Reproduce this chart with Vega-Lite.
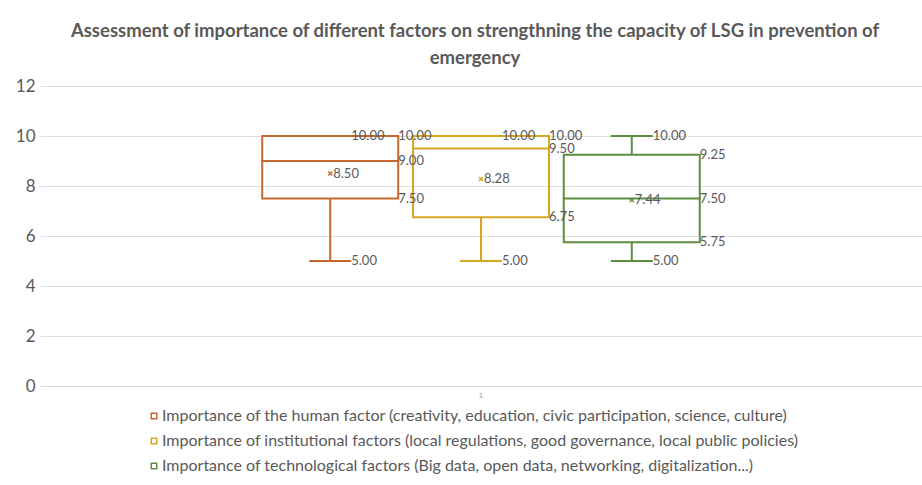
{
  "$schema": "https://vega.github.io/schema/vega-lite/v6.json",
  "autosize": {"type": "none"},
  "width": 882,
  "height": 300,
  "padding": {"left": 40, "top": 86, "right": 0, "bottom": 99},
  "background": "white",
  "title": {
    "text": ["Assessment of importance of different factors on strengthning the capacity of LSG in prevention of", "emergency"],
    "anchor": "middle",
    "frame": "group",
    "font": "Lato",
    "fontSize": 18.5,
    "fontWeight": "bold",
    "color": "#595959",
    "lineHeight": 27,
    "offset": 10,
    "dx": -6
  },
  "data": {
    "values": [
      {"cat": "1", "series": "Importance of the human factor (creativity, education, civic participation, science, culture)", "min": 5, "q1": 7.5, "median": 9, "q3": 10, "max": 10, "mean": 8.5},
      {"cat": "1", "series": "Importance of institutional factors (local regulations, good governance, local public policies)", "min": 5, "q1": 6.75, "median": 9.5, "q3": 10, "max": 10, "mean": 8.28},
      {"cat": "1", "series": "Importance of technological factors (Big data, open data, networking, digitalization...)", "min": 5, "q1": 5.75, "median": 7.5, "q3": 9.25, "max": 10, "mean": 7.44}
    ]
  },
  "encoding": {
    "x": {
      "field": "cat", "type": "nominal",
      "scale": {"paddingInner": 0, "paddingOuter": 0.475},
      "axis": {"title": null, "labelAngle": 0, "ticks": false, "domain": true, "domainColor": "#D9D9D9", "labelFontSize": 8, "labelColor": "#999999", "labelPadding": 5}
    },
    "xOffset": {
      "field": "series", "type": "nominal", "sort": null,
      "scale": {"paddingInner": 0.098, "paddingOuter": 0.049}
    },
    "color": {
      "field": "series", "type": "nominal", "sort": null,
      "scale": {
        "domain": [
          "Importance of the human factor (creativity, education, civic participation, science, culture)",
          "Importance of institutional factors (local regulations, good governance, local public policies)",
          "Importance of technological factors (Big data, open data, networking, digitalization...)"
        ],
        "range": ["#C5682F", "#D8A722", "#5F8D3F"]
      },
      "legend": {
        "title": null,
        "orient": "none",
        "legendX": 106,
        "legendY": 322,
        "direction": "vertical",
        "padding": 0,
        "symbolType": "square",
        "symbolSize": 30,
        "symbolStrokeWidth": 1.5,
        "symbolFillColor": "white",
        "labelFont": "Lato",
        "labelFontSize": 16,
        "labelColor": "#595959",
        "labelLimit": 900,
        "labelOffset": 0,
        "rowPadding": 9
      }
    }
  },
  "layer": [
    {
      "mark": {"type": "rule", "strokeWidth": 2},
      "encoding": {
        "y": {"field": "min", "type": "quantitative", "scale": {"domain": [0, 12], "nice": false},
          "axis": {"title": null, "values": [0, 2, 4, 6, 8, 10, 12], "grid": true, "gridColor": "#DEDEDE", "ticks": false, "domain": false, "labelFont": "Lato", "labelFontSize": 17, "labelColor": "#595959", "labelPadding": 5}},
        "y2": {"field": "q1"}
      }
    },
    {
      "mark": {"type": "rule", "strokeWidth": 2},
      "encoding": {"y": {"field": "q3", "type": "quantitative"}, "y2": {"field": "max"}}
    },
    {
      "mark": {"type": "bar", "filled": false, "strokeWidth": 2},
      "encoding": {"y": {"field": "q1", "type": "quantitative"}, "y2": {"field": "q3"}}
    },
    {
      "mark": {"type": "tick", "orient": "horizontal", "filled": false, "size": 136, "thickness": 0.01, "strokeWidth": 2, "opacity": 1},
      "encoding": {"y": {"field": "median", "type": "quantitative"}}
    },
    {
      "mark": {"type": "tick", "orient": "horizontal", "filled": false, "size": 40, "thickness": 0.01, "strokeWidth": 2, "opacity": 1},
      "encoding": {"y": {"field": "min", "type": "quantitative"}}
    },
    {
      "mark": {"type": "tick", "orient": "horizontal", "filled": false, "size": 40, "thickness": 0.01, "strokeWidth": 2, "opacity": 1},
      "encoding": {"y": {"field": "max", "type": "quantitative"}}
    },
    {
      "mark": {"type": "point", "shape": "M-1,-1L1,1M1,-1L-1,1", "filled": false, "size": 16, "strokeWidth": 1.5, "opacity": 1},
      "encoding": {"y": {"field": "mean", "type": "quantitative"}}
    },
    {
      "transform": [{"fold": ["q3", "median", "q1"], "as": ["k", "v"]}],
      "mark": {"type": "text", "align": "left", "baseline": "middle", "dx": 68, "font": "Lato", "fontSize": 13},
      "encoding": {"y": {"field": "v", "type": "quantitative"}, "text": {"field": "v", "type": "quantitative", "format": ".2f"}, "color": {"value": "#595959"}}
    },
    {
      "transform": [{"fold": ["max", "min"], "as": ["k", "v"]}],
      "mark": {"type": "text", "align": "left", "baseline": "middle", "dx": 21, "font": "Lato", "fontSize": 13},
      "encoding": {"y": {"field": "v", "type": "quantitative"}, "text": {"field": "v", "type": "quantitative", "format": ".2f"}, "color": {"value": "#595959"}}
    },
    {
      "mark": {"type": "text", "align": "left", "baseline": "middle", "dx": 3, "font": "Lato", "fontSize": 13},
      "encoding": {"y": {"field": "mean", "type": "quantitative"}, "text": {"field": "mean", "type": "quantitative", "format": ".2f"}, "color": {"value": "#595959"}}
    }
  ],
  "config": {"view": {"stroke": null}}
}
